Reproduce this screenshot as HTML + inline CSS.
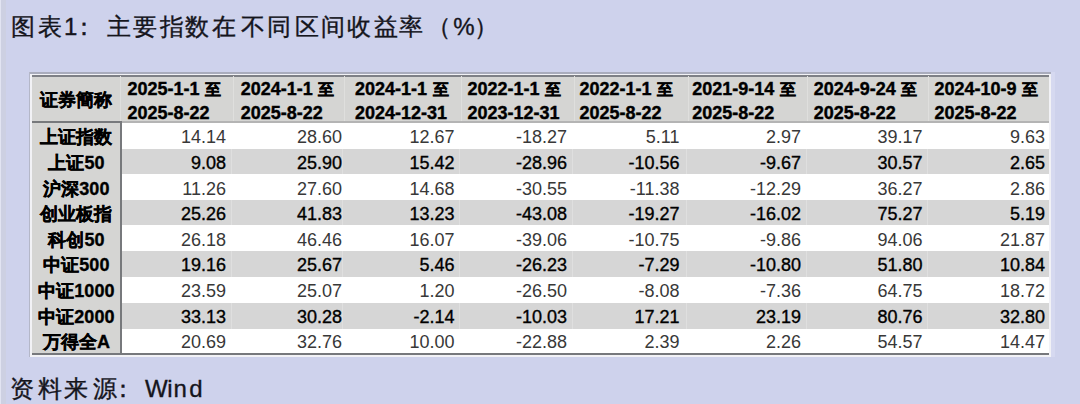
<!DOCTYPE html><html><head><meta charset="utf-8"><style>
html,body{margin:0;padding:0;}
body{width:1080px;height:404px;overflow:hidden;position:relative;background:#ced2ec;font-family:"Liberation Sans",sans-serif;}
.a{position:absolute;white-space:nowrap;}
.t{position:absolute;font-size:24px;line-height:40px;color:#15151c;white-space:pre;-webkit-text-stroke:0.35px #15151c;}
.hd{position:absolute;font-weight:bold;font-size:18px;line-height:40px;color:#000;white-space:nowrap;-webkit-text-stroke:0.4px #000;}
.c0{position:absolute;font-weight:bold;font-size:18px;line-height:40px;color:#000;text-align:center;width:88px;left:32.4px;white-space:nowrap;-webkit-text-stroke:0.35px #000;}
.n{position:absolute;font-size:18px;line-height:40px;color:#383838;text-align:right;white-space:nowrap;}
.g .n{color:#000;-webkit-text-stroke:0.35px #000;}
</style></head><body>
<div class="a" style="left:0;top:0;width:1px;height:404px;background:#e2e4f2"></div>
<div class="a" style="left:1px;top:0;width:5px;height:404px;background:#cdd0e2"></div>

<div class="t" style="left:11.1px;top:7.1px">图</div>
<div class="t" style="left:37.6px;top:7.1px">表</div>
<div class="t" style="left:64.1px;top:7.1px">1</div>
<div class="t" style="left:72.4px;top:7.1px">：</div>
<div class="t" style="left:107.1px;top:7.1px">主</div>
<div class="t" style="left:133.0px;top:7.1px">要</div>
<div class="t" style="left:160.3px;top:7.1px">指</div>
<div class="t" style="left:185.3px;top:7.1px">数</div>
<div class="t" style="left:211.8px;top:7.1px">在</div>
<div class="t" style="left:241.0px;top:7.1px">不</div>
<div class="t" style="left:267.4px;top:7.1px">同</div>
<div class="t" style="left:294.7px;top:7.1px">区</div>
<div class="t" style="left:320.5px;top:7.1px">间</div>
<div class="t" style="left:347.3px;top:7.1px">收</div>
<div class="t" style="left:374.0px;top:7.1px">益</div>
<div class="t" style="left:399.0px;top:7.1px">率</div>
<div class="t" style="left:427.3px;top:7.1px">（</div>
<div class="t" style="left:453.2px;top:7.1px">%</div>
<div class="t" style="left:473.5px;top:7.1px">）</div>
<div class="t" style="left:9.6px;top:368.6px">资</div>
<div class="t" style="left:38.1px;top:368.6px">料</div>
<div class="t" style="left:64.1px;top:368.6px">来</div>
<div class="t" style="left:92.6px;top:368.6px">源</div>
<div class="t" style="left:111.4px;top:368.6px">：</div>
<div class="t" style="left:145.1px;top:368.6px">W</div>
<div class="t" style="left:167.3px;top:368.6px">i</div>
<div class="t" style="left:173.6px;top:368.6px">n</div>
<div class="t" style="left:189.3px;top:368.6px">d</div>
<div class="a" style="left:1051px;top:72px;width:4px;height:285px;background:#d6d9f0"></div>
<div class="a" style="left:29px;top:72px;width:1022px;height:2px;background:#a9acbc"></div>
<div class="a" style="left:29px;top:72px;width:1px;height:285px;background:#b4b7c8"></div>
<div class="a" style="left:30px;top:74px;width:1021px;height:283px;background:#f2f2f6"></div>
<div class="a" style="left:32px;top:75px;width:1017px;height:2px;background:#7e8086"></div>
<div class="a" style="left:32px;top:77px;width:1017px;height:44px;background:#d5d5d3"></div>
<div class="a" style="left:32px;top:353px;width:1017px;height:2px;background:#76787c"></div>
<div class="a" style="left:122px;top:121px;width:927px;height:2px;background:#b4b4b4"></div>
<div class="a" style="left:32px;top:121px;width:90px;height:2px;background:#77797c"></div>
<div class="a" style="left:32px;top:123px;width:1017px;height:26.4px;background:#ffffff"></div>
<div class="a" style="left:32px;top:123px;width:88px;height:26.4px;background:#d5d5d3"></div>
<div class="a" style="left:32px;top:149.4px;width:1017px;height:24.8px;background:#d6d6d6"></div>
<div class="a" style="left:32px;top:149.4px;width:88px;height:24.8px;background:#d5d5d3"></div>
<div class="a" style="left:32px;top:174.2px;width:1017px;height:26.2px;background:#ffffff"></div>
<div class="a" style="left:32px;top:174.2px;width:88px;height:26.2px;background:#d5d5d3"></div>
<div class="a" style="left:32px;top:200.4px;width:1017px;height:24.8px;background:#d6d6d6"></div>
<div class="a" style="left:32px;top:200.4px;width:88px;height:24.8px;background:#d5d5d3"></div>
<div class="a" style="left:32px;top:225.2px;width:1017px;height:25.7px;background:#ffffff"></div>
<div class="a" style="left:32px;top:225.2px;width:88px;height:25.7px;background:#d5d5d3"></div>
<div class="a" style="left:32px;top:250.9px;width:1017px;height:25.8px;background:#d6d6d6"></div>
<div class="a" style="left:32px;top:250.9px;width:88px;height:25.8px;background:#d5d5d3"></div>
<div class="a" style="left:32px;top:276.7px;width:1017px;height:26.2px;background:#ffffff"></div>
<div class="a" style="left:32px;top:276.7px;width:88px;height:26.2px;background:#d5d5d3"></div>
<div class="a" style="left:32px;top:302.9px;width:1017px;height:25.8px;background:#d6d6d6"></div>
<div class="a" style="left:32px;top:302.9px;width:88px;height:25.8px;background:#d5d5d3"></div>
<div class="a" style="left:32px;top:328.7px;width:1017px;height:24.6px;background:#ffffff"></div>
<div class="a" style="left:32px;top:328.7px;width:88px;height:24.6px;background:#d5d5d3"></div>
<div class="a" style="left:120px;top:121px;width:2px;height:232px;background:#77797c"></div>
<div class="a" style="left:231.0px;top:149.4px;width:1px;height:24.8px;background:#dfdfdf"></div>
<div class="a" style="left:342.0px;top:149.4px;width:1px;height:24.8px;background:#dfdfdf"></div>
<div class="a" style="left:459.0px;top:149.4px;width:1px;height:24.8px;background:#dfdfdf"></div>
<div class="a" style="left:572.3px;top:149.4px;width:1px;height:24.8px;background:#dfdfdf"></div>
<div class="a" style="left:686.0px;top:149.4px;width:1px;height:24.8px;background:#dfdfdf"></div>
<div class="a" style="left:805.8px;top:149.4px;width:1px;height:24.8px;background:#dfdfdf"></div>
<div class="a" style="left:926.5px;top:149.4px;width:1px;height:24.8px;background:#dfdfdf"></div>
<div class="a" style="left:231.0px;top:200.4px;width:1px;height:24.8px;background:#dfdfdf"></div>
<div class="a" style="left:342.0px;top:200.4px;width:1px;height:24.8px;background:#dfdfdf"></div>
<div class="a" style="left:459.0px;top:200.4px;width:1px;height:24.8px;background:#dfdfdf"></div>
<div class="a" style="left:572.3px;top:200.4px;width:1px;height:24.8px;background:#dfdfdf"></div>
<div class="a" style="left:686.0px;top:200.4px;width:1px;height:24.8px;background:#dfdfdf"></div>
<div class="a" style="left:805.8px;top:200.4px;width:1px;height:24.8px;background:#dfdfdf"></div>
<div class="a" style="left:926.5px;top:200.4px;width:1px;height:24.8px;background:#dfdfdf"></div>
<div class="a" style="left:231.0px;top:250.9px;width:1px;height:25.8px;background:#dfdfdf"></div>
<div class="a" style="left:342.0px;top:250.9px;width:1px;height:25.8px;background:#dfdfdf"></div>
<div class="a" style="left:459.0px;top:250.9px;width:1px;height:25.8px;background:#dfdfdf"></div>
<div class="a" style="left:572.3px;top:250.9px;width:1px;height:25.8px;background:#dfdfdf"></div>
<div class="a" style="left:686.0px;top:250.9px;width:1px;height:25.8px;background:#dfdfdf"></div>
<div class="a" style="left:805.8px;top:250.9px;width:1px;height:25.8px;background:#dfdfdf"></div>
<div class="a" style="left:926.5px;top:250.9px;width:1px;height:25.8px;background:#dfdfdf"></div>
<div class="a" style="left:231.0px;top:302.9px;width:1px;height:25.8px;background:#dfdfdf"></div>
<div class="a" style="left:342.0px;top:302.9px;width:1px;height:25.8px;background:#dfdfdf"></div>
<div class="a" style="left:459.0px;top:302.9px;width:1px;height:25.8px;background:#dfdfdf"></div>
<div class="a" style="left:572.3px;top:302.9px;width:1px;height:25.8px;background:#dfdfdf"></div>
<div class="a" style="left:686.0px;top:302.9px;width:1px;height:25.8px;background:#dfdfdf"></div>
<div class="a" style="left:805.8px;top:302.9px;width:1px;height:25.8px;background:#dfdfdf"></div>
<div class="a" style="left:926.5px;top:302.9px;width:1px;height:25.8px;background:#dfdfdf"></div>
<div class="a" style="left:120px;top:76px;width:1px;height:45px;background:#dfdfdd"></div>
<div class="a" style="left:232.5px;top:76px;width:1px;height:45px;background:#dfdfdd"></div>
<div class="a" style="left:343.5px;top:76px;width:1px;height:45px;background:#dfdfdd"></div>
<div class="a" style="left:460.5px;top:76px;width:1px;height:45px;background:#dfdfdd"></div>
<div class="a" style="left:573.8px;top:76px;width:1px;height:45px;background:#dfdfdd"></div>
<div class="a" style="left:687.5px;top:76px;width:1px;height:45px;background:#dfdfdd"></div>
<div class="a" style="left:807.3px;top:76px;width:1px;height:45px;background:#dfdfdd"></div>
<div class="a" style="left:928px;top:76px;width:1px;height:45px;background:#dfdfdd"></div>
<div class="c0" style="top:80px;">证券簡称</div>
<div class="hd" style="left:127.5px;top:69.4px;">2025-1-1<span style="font-size:16px;margin-left:5.5px">至</span></div>
<div class="hd" style="left:127.5px;top:93px;">2025-8-22</div>
<div class="hd" style="left:240.8px;top:69.4px;">2024-1-1<span style="font-size:16px;margin-left:5.5px">至</span></div>
<div class="hd" style="left:240.8px;top:93px;">2025-8-22</div>
<div class="hd" style="left:355px;top:69.4px;">2024-1-1<span style="font-size:16px;margin-left:5.5px">至</span></div>
<div class="hd" style="left:355px;top:93px;">2024-12-31</div>
<div class="hd" style="left:467.5px;top:69.4px;">2022-1-1<span style="font-size:16px;margin-left:5.5px">至</span></div>
<div class="hd" style="left:467.5px;top:93px;">2023-12-31</div>
<div class="hd" style="left:579.5px;top:69.4px;">2022-1-1<span style="font-size:16px;margin-left:5.5px">至</span></div>
<div class="hd" style="left:579.5px;top:93px;">2025-8-22</div>
<div class="hd" style="left:692.3px;top:69.4px;">2021-9-14<span style="font-size:16px;margin-left:5.5px">至</span></div>
<div class="hd" style="left:692.3px;top:93px;">2025-8-22</div>
<div class="hd" style="left:813.8px;top:69.4px;">2024-9-24<span style="font-size:16px;margin-left:5.5px">至</span></div>
<div class="hd" style="left:813.8px;top:93px;">2025-8-22</div>
<div class="hd" style="left:934.4px;top:69.4px;">2024-10-9<span style="font-size:16px;margin-left:5.5px">至</span></div>
<div class="hd" style="left:934.4px;top:93px;">2025-8-22</div>
<div class="w"><div class="c0" style="top:117.3px;">上证指数</div>
<div class="n" style="right:854px;top:117.3px;">14.14</div>
<div class="n" style="right:738px;top:117.3px;">28.60</div>
<div class="n" style="right:625.5px;top:117.3px;">12.67</div>
<div class="n" style="right:513px;top:117.3px;">-18.27</div>
<div class="n" style="right:400.5px;top:117.3px;">5.11</div>
<div class="n" style="right:279px;top:117.3px;">2.97</div>
<div class="n" style="right:157.5px;top:117.3px;">39.17</div>
<div class="n" style="right:35px;top:117.3px;">9.63</div>
</div>
<div class="g"><div class="c0" style="top:142.9px;">上证50</div>
<div class="n" style="right:854px;top:142.9px;">9.08</div>
<div class="n" style="right:738px;top:142.9px;">25.90</div>
<div class="n" style="right:625.5px;top:142.9px;">15.42</div>
<div class="n" style="right:513px;top:142.9px;">-28.96</div>
<div class="n" style="right:400.5px;top:142.9px;">-10.56</div>
<div class="n" style="right:279px;top:142.9px;">-9.67</div>
<div class="n" style="right:157.5px;top:142.9px;">30.57</div>
<div class="n" style="right:35px;top:142.9px;">2.65</div>
</div>
<div class="w"><div class="c0" style="top:168.6px;">沪深300</div>
<div class="n" style="right:854px;top:168.6px;">11.26</div>
<div class="n" style="right:738px;top:168.6px;">27.60</div>
<div class="n" style="right:625.5px;top:168.6px;">14.68</div>
<div class="n" style="right:513px;top:168.6px;">-30.55</div>
<div class="n" style="right:400.5px;top:168.6px;">-11.38</div>
<div class="n" style="right:279px;top:168.6px;">-12.29</div>
<div class="n" style="right:157.5px;top:168.6px;">36.27</div>
<div class="n" style="right:35px;top:168.6px;">2.86</div>
</div>
<div class="g"><div class="c0" style="top:194.2px;">创业板指</div>
<div class="n" style="right:854px;top:194.2px;">25.26</div>
<div class="n" style="right:738px;top:194.2px;">41.83</div>
<div class="n" style="right:625.5px;top:194.2px;">13.23</div>
<div class="n" style="right:513px;top:194.2px;">-43.08</div>
<div class="n" style="right:400.5px;top:194.2px;">-19.27</div>
<div class="n" style="right:279px;top:194.2px;">-16.02</div>
<div class="n" style="right:157.5px;top:194.2px;">75.27</div>
<div class="n" style="right:35px;top:194.2px;">5.19</div>
</div>
<div class="w"><div class="c0" style="top:219.8px;">科创50</div>
<div class="n" style="right:854px;top:219.8px;">26.18</div>
<div class="n" style="right:738px;top:219.8px;">46.46</div>
<div class="n" style="right:625.5px;top:219.8px;">16.07</div>
<div class="n" style="right:513px;top:219.8px;">-39.06</div>
<div class="n" style="right:400.5px;top:219.8px;">-10.75</div>
<div class="n" style="right:279px;top:219.8px;">-9.86</div>
<div class="n" style="right:157.5px;top:219.8px;">94.06</div>
<div class="n" style="right:35px;top:219.8px;">21.87</div>
</div>
<div class="g"><div class="c0" style="top:245.4px;">中证500</div>
<div class="n" style="right:854px;top:245.4px;">19.16</div>
<div class="n" style="right:738px;top:245.4px;">25.67</div>
<div class="n" style="right:625.5px;top:245.4px;">5.46</div>
<div class="n" style="right:513px;top:245.4px;">-26.23</div>
<div class="n" style="right:400.5px;top:245.4px;">-7.29</div>
<div class="n" style="right:279px;top:245.4px;">-10.80</div>
<div class="n" style="right:157.5px;top:245.4px;">51.80</div>
<div class="n" style="right:35px;top:245.4px;">10.84</div>
</div>
<div class="w"><div class="c0" style="top:271.1px;">中证1000</div>
<div class="n" style="right:854px;top:271.1px;">23.59</div>
<div class="n" style="right:738px;top:271.1px;">25.07</div>
<div class="n" style="right:625.5px;top:271.1px;">1.20</div>
<div class="n" style="right:513px;top:271.1px;">-26.50</div>
<div class="n" style="right:400.5px;top:271.1px;">-8.08</div>
<div class="n" style="right:279px;top:271.1px;">-7.36</div>
<div class="n" style="right:157.5px;top:271.1px;">64.75</div>
<div class="n" style="right:35px;top:271.1px;">18.72</div>
</div>
<div class="g"><div class="c0" style="top:296.7px;">中证2000</div>
<div class="n" style="right:854px;top:296.7px;">33.13</div>
<div class="n" style="right:738px;top:296.7px;">30.28</div>
<div class="n" style="right:625.5px;top:296.7px;">-2.14</div>
<div class="n" style="right:513px;top:296.7px;">-10.03</div>
<div class="n" style="right:400.5px;top:296.7px;">17.21</div>
<div class="n" style="right:279px;top:296.7px;">23.19</div>
<div class="n" style="right:157.5px;top:296.7px;">80.76</div>
<div class="n" style="right:35px;top:296.7px;">32.80</div>
</div>
<div class="w"><div class="c0" style="top:322.3px;">万得全A</div>
<div class="n" style="right:854px;top:322.3px;">20.69</div>
<div class="n" style="right:738px;top:322.3px;">32.76</div>
<div class="n" style="right:625.5px;top:322.3px;">10.00</div>
<div class="n" style="right:513px;top:322.3px;">-22.88</div>
<div class="n" style="right:400.5px;top:322.3px;">2.39</div>
<div class="n" style="right:279px;top:322.3px;">2.26</div>
<div class="n" style="right:157.5px;top:322.3px;">54.57</div>
<div class="n" style="right:35px;top:322.3px;">14.47</div>
</div>
</body></html>
